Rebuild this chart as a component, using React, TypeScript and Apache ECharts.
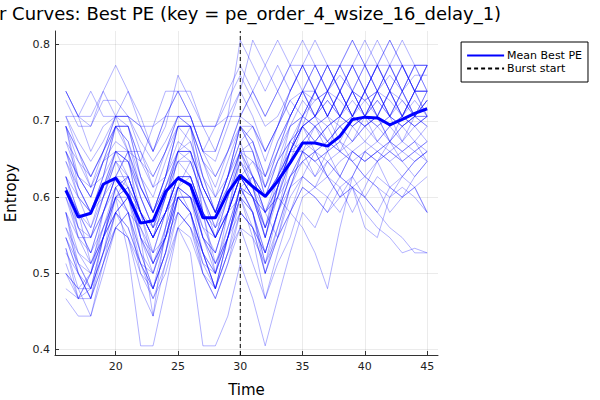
import React, { useEffect, useRef } from "react";
import * as echarts from "echarts";

const TIME = [16, 17, 18, 19, 20, 21, 22, 23, 24, 25, 26, 27, 28, 29, 30, 31, 32, 33, 34, 35, 36, 37, 38, 39, 40, 41, 42, 43, 44, 45];

const MEAN = [0.609, 0.574, 0.579, 0.617, 0.625, 0.602, 0.566, 0.569, 0.607, 0.625, 0.616, 0.573, 0.573, 0.606, 0.629, 0.614, 0.601, 0.621, 0.645, 0.671, 0.671, 0.667, 0.680, 0.702, 0.705, 0.704, 0.695, 0.702, 0.710, 0.716];

const RUNS: number[][] = [
  [0.739,0.706,0.693,0.739,0.773,0.739,0.693,0.660,0.706,0.739,0.706,0.660,0.660,0.706,0.739,0.806,0.773,0.739,0.773,0.739,0.706,0.739,0.773,0.806,0.773,0.806,0.773,0.739,0.773,0.773],
  [0.727,0.693,0.693,0.727,0.727,0.706,0.693,0.660,0.693,0.760,0.727,0.693,0.693,0.727,0.760,0.727,0.693,0.706,0.739,0.773,0.739,0.773,0.739,0.773,0.739,0.773,0.739,0.773,0.739,0.773],
  [0.693,0.647,0.613,0.660,0.693,0.693,0.647,0.613,0.660,0.693,0.693,0.647,0.613,0.660,0.693,0.693,0.660,0.693,0.739,0.773,0.739,0.773,0.739,0.706,0.739,0.773,0.739,0.773,0.739,0.739],
  [0.706,0.660,0.627,0.660,0.706,0.706,0.660,0.627,0.660,0.706,0.706,0.660,0.627,0.660,0.706,0.739,0.706,0.739,0.706,0.739,0.773,0.739,0.706,0.739,0.706,0.739,0.706,0.739,0.706,0.739],
  [0.739,0.706,0.739,0.706,0.706,0.660,0.647,0.693,0.739,0.739,0.706,0.660,0.693,0.739,0.773,0.739,0.706,0.739,0.773,0.806,0.773,0.739,0.773,0.806,0.773,0.739,0.773,0.739,0.706,0.739],
  [0.706,0.706,0.706,0.739,0.706,0.706,0.693,0.693,0.706,0.706,0.693,0.693,0.693,0.706,0.706,0.739,0.773,0.806,0.773,0.773,0.773,0.773,0.773,0.773,0.773,0.773,0.773,0.773,0.773,0.773],
  [0.660,0.613,0.580,0.627,0.693,0.693,0.627,0.580,0.627,0.693,0.693,0.627,0.580,0.627,0.693,0.660,0.613,0.660,0.706,0.739,0.739,0.706,0.739,0.706,0.739,0.706,0.739,0.706,0.739,0.706],
  [0.627,0.560,0.547,0.600,0.660,0.647,0.580,0.547,0.600,0.660,0.660,0.580,0.547,0.600,0.660,0.627,0.580,0.613,0.660,0.706,0.693,0.660,0.706,0.739,0.706,0.739,0.706,0.673,0.706,0.706],
  [0.613,0.547,0.527,0.580,0.627,0.613,0.547,0.527,0.580,0.627,0.613,0.547,0.527,0.580,0.627,0.600,0.560,0.600,0.647,0.673,0.693,0.673,0.693,0.706,0.693,0.706,0.673,0.693,0.706,0.727],
  [0.693,0.613,0.580,0.627,0.693,0.660,0.547,0.444,0.560,0.660,0.693,0.580,0.500,0.580,0.660,0.613,0.547,0.613,0.660,0.693,0.706,0.673,0.693,0.673,0.706,0.693,0.673,0.693,0.706,0.693],
  [0.533,0.467,0.500,0.580,0.613,0.580,0.500,0.480,0.547,0.613,0.580,0.500,0.480,0.547,0.613,0.580,0.527,0.580,0.627,0.660,0.647,0.660,0.627,0.660,0.647,0.660,0.673,0.647,0.660,0.673],
  [0.527,0.500,0.467,0.547,0.600,0.580,0.527,0.480,0.527,0.600,0.580,0.527,0.480,0.547,0.600,0.560,0.500,0.560,0.613,0.647,0.660,0.647,0.627,0.660,0.673,0.660,0.647,0.627,0.647,0.660],
  [0.560,0.513,0.480,0.527,0.580,0.560,0.513,0.500,0.547,0.600,0.580,0.513,0.500,0.547,0.600,0.580,0.513,0.547,0.600,0.627,0.613,0.627,0.600,0.613,0.627,0.613,0.600,0.613,0.600,0.580],
  [0.600,0.547,0.513,0.560,0.600,0.527,0.405,0.405,0.480,0.560,0.580,0.527,0.480,0.527,0.560,0.513,0.467,0.527,0.580,0.613,0.600,0.580,0.613,0.627,0.600,0.580,0.560,0.547,0.527,0.527],
  [0.580,0.527,0.500,0.547,0.580,0.547,0.480,0.444,0.513,0.560,0.527,0.405,0.405,0.444,0.513,0.467,0.405,0.467,0.527,0.580,0.560,0.600,0.580,0.613,0.600,0.627,0.613,0.600,0.627,0.647],
  [0.613,0.560,0.527,0.580,0.627,0.600,0.547,0.500,0.560,0.613,0.600,0.547,0.500,0.547,0.600,0.547,0.467,0.513,0.547,0.600,0.613,0.600,0.627,0.613,0.600,0.580,0.613,0.600,0.613,0.580],
  [0.500,0.467,0.467,0.513,0.560,0.547,0.500,0.467,0.513,0.580,0.560,0.500,0.467,0.513,0.580,0.560,0.500,0.547,0.580,0.627,0.613,0.647,0.627,0.613,0.560,0.547,0.600,0.627,0.613,0.627],
  [0.647,0.600,0.560,0.613,0.660,0.647,0.600,0.560,0.613,0.660,0.647,0.600,0.560,0.613,0.660,0.627,0.580,0.600,0.580,0.560,0.527,0.480,0.560,0.627,0.660,0.647,0.673,0.660,0.647,0.660],
  [0.673,0.627,0.600,0.647,0.693,0.673,0.613,0.580,0.627,0.693,0.673,0.613,0.580,0.627,0.693,0.660,0.600,0.647,0.693,0.727,0.706,0.727,0.706,0.739,0.727,0.706,0.739,0.727,0.706,0.727],
  [0.533,0.480,0.444,0.513,0.580,0.600,0.547,0.513,0.560,0.613,0.600,0.547,0.513,0.560,0.613,0.600,0.547,0.600,0.660,0.693,0.673,0.693,0.706,0.693,0.673,0.693,0.706,0.693,0.673,0.693],
  [0.513,0.467,0.480,0.547,0.600,0.627,0.580,0.527,0.580,0.627,0.613,0.560,0.527,0.580,0.627,0.600,0.547,0.613,0.673,0.706,0.739,0.706,0.673,0.706,0.739,0.706,0.673,0.706,0.739,0.706],
  [0.547,0.500,0.480,0.527,0.560,0.580,0.560,0.527,0.547,0.580,0.560,0.527,0.500,0.547,0.580,0.560,0.527,0.580,0.627,0.647,0.627,0.647,0.660,0.647,0.627,0.647,0.660,0.647,0.660,0.647],
  [0.580,0.513,0.480,0.547,0.613,0.627,0.580,0.547,0.580,0.627,0.627,0.580,0.547,0.580,0.627,0.613,0.580,0.547,0.580,0.613,0.600,0.580,0.600,0.613,0.580,0.560,0.547,0.527,0.533,0.527],
  [0.693,0.660,0.627,0.660,0.693,0.673,0.627,0.600,0.647,0.693,0.693,0.647,0.600,0.647,0.693,0.673,0.627,0.673,0.706,0.739,0.773,0.739,0.773,0.739,0.773,0.739,0.773,0.739,0.773,0.773],
  [0.660,0.627,0.613,0.647,0.660,0.647,0.613,0.580,0.613,0.660,0.660,0.613,0.580,0.613,0.660,0.647,0.627,0.660,0.693,0.706,0.693,0.706,0.739,0.706,0.693,0.706,0.739,0.706,0.739,0.739],
  [0.627,0.580,0.547,0.600,0.647,0.647,0.600,0.560,0.600,0.647,0.647,0.600,0.560,0.600,0.647,0.613,0.560,0.613,0.660,0.693,0.706,0.693,0.660,0.693,0.706,0.727,0.706,0.693,0.706,0.727],
  [0.600,0.560,0.527,0.560,0.600,0.613,0.580,0.547,0.580,0.613,0.600,0.560,0.547,0.580,0.627,0.600,0.560,0.600,0.647,0.673,0.660,0.627,0.600,0.627,0.660,0.647,0.613,0.627,0.647,0.660],
  [0.480,0.467,0.500,0.547,0.580,0.560,0.513,0.480,0.527,0.580,0.560,0.513,0.480,0.527,0.580,0.560,0.527,0.580,0.647,0.693,0.706,0.739,0.706,0.739,0.706,0.739,0.706,0.739,0.706,0.706],
  [0.467,0.444,0.444,0.500,0.560,0.580,0.527,0.500,0.547,0.600,0.580,0.527,0.480,0.547,0.613,0.600,0.547,0.613,0.660,0.693,0.739,0.773,0.739,0.706,0.739,0.773,0.739,0.706,0.739,0.773],
  [0.560,0.527,0.513,0.547,0.580,0.600,0.580,0.560,0.580,0.600,0.600,0.580,0.560,0.580,0.600,0.627,0.600,0.627,0.660,0.693,0.660,0.673,0.693,0.706,0.693,0.673,0.693,0.706,0.693,0.673],
  [0.706,0.673,0.647,0.673,0.706,0.706,0.673,0.647,0.673,0.706,0.706,0.660,0.647,0.693,0.739,0.706,0.660,0.693,0.739,0.773,0.739,0.706,0.739,0.773,0.806,0.773,0.806,0.773,0.739,0.773],
  [0.673,0.647,0.627,0.660,0.706,0.693,0.647,0.627,0.660,0.706,0.693,0.647,0.627,0.660,0.706,0.693,0.647,0.693,0.727,0.706,0.727,0.739,0.727,0.706,0.727,0.739,0.727,0.706,0.693,0.706],
  [0.647,0.613,0.580,0.600,0.627,0.660,0.660,0.613,0.627,0.660,0.673,0.627,0.600,0.627,0.660,0.673,0.627,0.673,0.706,0.739,0.706,0.739,0.773,0.739,0.706,0.739,0.773,0.806,0.773,0.739],
  [0.613,0.580,0.560,0.600,0.647,0.627,0.580,0.547,0.580,0.627,0.627,0.580,0.547,0.580,0.627,0.647,0.613,0.647,0.673,0.660,0.647,0.660,0.673,0.660,0.647,0.660,0.673,0.660,0.673,0.660],
  [0.500,0.480,0.480,0.527,0.580,0.600,0.560,0.513,0.547,0.600,0.600,0.547,0.513,0.547,0.613,0.627,0.600,0.627,0.660,0.660,0.627,0.660,0.673,0.647,0.627,0.613,0.580,0.600,0.613,0.580],
  [0.580,0.547,0.547,0.580,0.627,0.627,0.580,0.547,0.580,0.627,0.627,0.580,0.547,0.580,0.627,0.600,0.580,0.613,0.660,0.706,0.739,0.706,0.739,0.706,0.739,0.706,0.739,0.706,0.739,0.739],
  [0.739,0.706,0.660,0.693,0.706,0.739,0.706,0.660,0.706,0.739,0.739,0.693,0.660,0.706,0.806,0.773,0.739,0.773,0.739,0.773,0.806,0.773,0.739,0.773,0.739,0.773,0.806,0.773,0.739,0.773],
  [0.627,0.580,0.513,0.547,0.613,0.627,0.580,0.513,0.547,0.613,0.627,0.580,0.513,0.547,0.613,0.580,0.527,0.580,0.627,0.660,0.673,0.693,0.706,0.727,0.706,0.693,0.706,0.727,0.706,0.693],
  [0.547,0.500,0.467,0.513,0.560,0.547,0.513,0.467,0.500,0.560,0.547,0.500,0.467,0.513,0.560,0.547,0.513,0.560,0.613,0.660,0.693,0.706,0.693,0.673,0.693,0.706,0.693,0.673,0.693,0.706],
  [0.693,0.660,0.613,0.627,0.660,0.660,0.600,0.560,0.600,0.660,0.660,0.613,0.580,0.627,0.673,0.627,0.580,0.627,0.693,0.706,0.739,0.706,0.739,0.773,0.739,0.773,0.739,0.773,0.739,0.739],
  [0.660,0.600,0.580,0.613,0.660,0.627,0.580,0.547,0.600,0.647,0.627,0.580,0.547,0.600,0.647,0.627,0.600,0.647,0.673,0.693,0.673,0.693,0.706,0.693,0.706,0.673,0.693,0.706,0.693,0.706],
  [0.580,0.500,0.467,0.527,0.600,0.600,0.527,0.480,0.527,0.600,0.600,0.527,0.480,0.527,0.600,0.580,0.500,0.547,0.613,0.660,0.647,0.627,0.647,0.660,0.647,0.660,0.647,0.660,0.673,0.647],
  [0.627,0.600,0.580,0.613,0.647,0.613,0.547,0.513,0.547,0.613,0.647,0.600,0.547,0.580,0.647,0.613,0.560,0.627,0.673,0.693,0.706,0.727,0.706,0.693,0.706,0.727,0.706,0.693,0.706,0.727],
  [0.693,0.627,0.600,0.647,0.693,0.693,0.627,0.580,0.627,0.693,0.693,0.627,0.580,0.627,0.693,0.673,0.613,0.660,0.706,0.739,0.706,0.739,0.706,0.739,0.773,0.739,0.706,0.739,0.773,0.739],
  [0.547,0.513,0.500,0.547,0.600,0.613,0.580,0.547,0.580,0.627,0.613,0.547,0.527,0.580,0.627,0.600,0.580,0.600,0.627,0.647,0.660,0.673,0.660,0.647,0.660,0.673,0.660,0.673,0.660,0.673],
  [0.613,0.580,0.547,0.580,0.627,0.660,0.613,0.580,0.613,0.647,0.660,0.613,0.580,0.613,0.660,0.660,0.600,0.627,0.660,0.673,0.693,0.673,0.660,0.673,0.693,0.706,0.693,0.706,0.727,0.706],
  [0.500,0.480,0.500,0.560,0.613,0.580,0.513,0.480,0.527,0.600,0.580,0.527,0.500,0.560,0.613,0.580,0.513,0.580,0.613,0.627,0.660,0.627,0.613,0.580,0.613,0.647,0.660,0.647,0.627,0.647],
  [0.660,0.627,0.600,0.647,0.673,0.660,0.613,0.580,0.627,0.673,0.660,0.613,0.580,0.627,0.673,0.693,0.660,0.693,0.727,0.739,0.727,0.739,0.760,0.739,0.727,0.739,0.760,0.739,0.760,0.760],
];

const X_TICKS = [20, 25, 30, 35, 40, 45];
const Y_TICKS = [0.4, 0.5, 0.6, 0.7, 0.8];
const BURST_X = 30;
const X_RANGE = [15.13, 45.87];
const Y_RANGE = [0.393, 0.818];

const TITLE = "r Curves: Best PE (key = pe_order_4_wsize_16_delay_1)";
const FONT = "DejaVu Sans";

export default function App() {
  const ref = useRef<HTMLDivElement>(null);
  useEffect(() => {
    if (!ref.current) return;
    const chart = echarts.init(ref.current, null, { renderer: "svg" });
    const runSeries = RUNS.map((vals, i) => ({
      name: "run" + (i + 1),
      type: "line",
      data: TIME.map((t, j) => [t, vals[j]]),
      symbol: "none",
      lineStyle: { color: "rgba(0,0,255,0.3)", width: 1 },
      itemStyle: { color: "rgba(0,0,255,0.3)" },
      silent: true,
      z: 2,
    }));
    chart.setOption({
      animation: false,
      title: {
        text: TITLE,
        left: -6,
        top: -1,
        textStyle: { fontFamily: FONT, fontSize: 18, fontWeight: "normal", color: "#000" },
      },
      grid: { left: 55, top: 31, right: 162, bottom: 45, containLabel: false, outerBoundsMode: "none" },
      legend: {
        data: ["Mean Best PE", "Burst start"],
        orient: "vertical",
        right: 12,
        top: 42,
        borderColor: "#000",
        borderWidth: 1,
        backgroundColor: "#fff",
        padding: [8, 6, 8, 5],
        itemWidth: 37,
        itemHeight: 10,
        itemGap: 2,
        itemStyle: { opacity: 0 },
        textStyle: { fontFamily: FONT, fontSize: 11, color: "#000", padding: [0, 0, 0, -2] },
      },
      xAxis: {
        type: "value",
        min: X_RANGE[0],
        max: X_RANGE[1],
        name: "Time",
        nameLocation: "middle",
        nameGap: 27,
        nameTextStyle: { fontFamily: FONT, fontSize: 15, color: "#000" },
        axisLine: { lineStyle: { color: "#333", width: 1 } },
        axisTick: { inside: true, length: 4, customValues: X_TICKS, lineStyle: { color: "#333" } },
        axisLabel: { customValues: X_TICKS, fontFamily: FONT, fontSize: 11, color: "#222", margin: 6 },
        splitLine: { show: true, lineStyle: { color: "rgba(0,0,0,0.08)", width: 1 } },
      },
      yAxis: {
        type: "value",
        min: Y_RANGE[0],
        max: Y_RANGE[1],
        name: "Entropy",
        nameLocation: "middle",
        nameGap: 37,
        nameTextStyle: { fontFamily: FONT, fontSize: 15, color: "#000" },
        axisLine: { show: true, lineStyle: { color: "#333", width: 1 } },
        axisTick: { show: true, inside: true, length: 4, customValues: Y_TICKS, lineStyle: { color: "#333" } },
        axisLabel: {
          customValues: Y_TICKS,
          fontFamily: FONT,
          fontSize: 11,
          color: "#222",
          margin: 5,
          formatter: (v: number) => v.toFixed(1),
        },
        splitLine: { show: true, lineStyle: { color: "rgba(0,0,0,0.08)", width: 1 } },
      },
      series: [
        ...runSeries,
        {
          name: "Mean Best PE",
          type: "line",
          data: TIME.map((t, j) => [t, MEAN[j]]),
          symbol: "none",
          lineStyle: { color: "#0000ff", width: 3 },
          itemStyle: { color: "#0000ff" },
          z: 3,
        },
        {
          name: "Burst start",
          type: "line",
          data: [[BURST_X, Y_RANGE[0]], [BURST_X, Y_RANGE[1]]],
          symbol: "none",
          lineStyle: { color: "#000", width: 1, type: [4, 3] },
          itemStyle: { color: "#000" },
          z: 4,
        },
      ],
    });
    return () => chart.dispose();
  }, []);
  return <div ref={ref} style={{ width: 600, height: 400, position: "fixed", left: 0, top: 0, background: "#fff" }} />;
}
